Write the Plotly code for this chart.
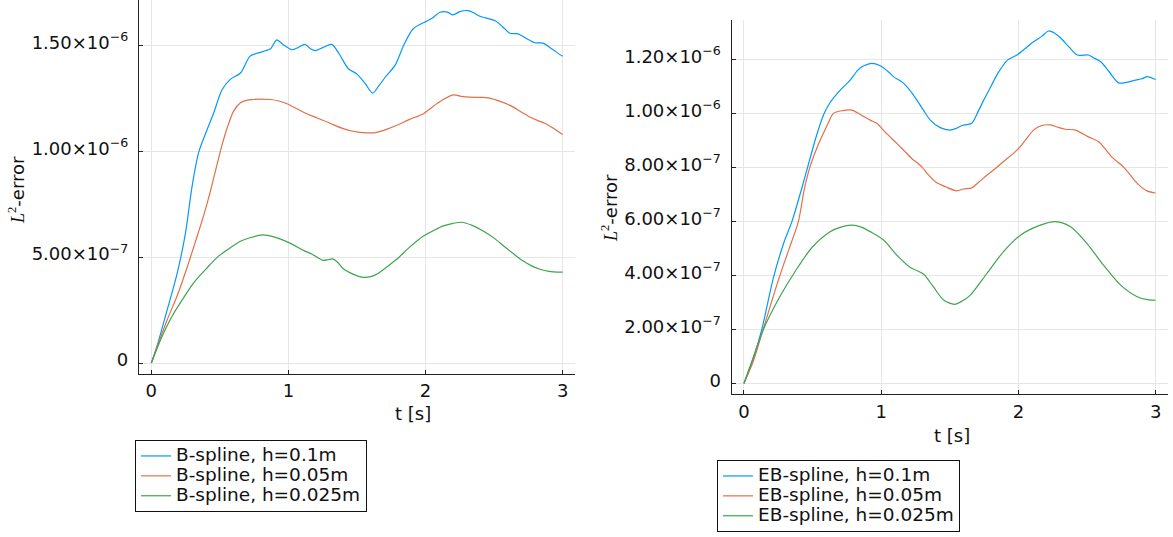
import numpy as np
import plotly.graph_objects as go

# L2-error values are stored in units of 1e-7
UNIT = 1e-7

# --- B-spline runs ---
bs_t_01 = [0, 0.04, 0.115, 0.187, 0.248, 0.296, 0.345, 0.405, 0.454, 0.515, 0.576, 0.65,
           0.72, 0.78, 0.83, 0.87, 0.915, 0.96, 1.025, 1.07, 1.12, 1.16, 1.195, 1.25, 1.316,
           1.37, 1.437, 1.498, 1.56, 1.614, 1.66, 1.705, 1.777, 1.84, 1.91, 2.008, 2.05, 2.105,
           2.16, 2.20, 2.25, 2.31, 2.35, 2.396, 2.505, 2.56, 2.615, 2.675, 2.73, 2.797, 2.857,
           2.92, 2.99, 3.0]
bs_e_01 = [0, 0.77, 2.5, 4.2, 6.1, 8.3, 9.95, 11.0, 11.8, 12.9, 13.4, 13.7,
           14.5, 14.65, 14.75, 14.85, 15.27, 15.05, 14.8, 14.9, 15.05, 14.85, 14.76, 14.9, 15.05,
           14.6, 13.9, 13.66, 13.2, 12.75, 13.1, 13.5, 14.06, 15.0, 15.79, 16.15, 16.3, 16.57,
           16.58, 16.45, 16.6, 16.65, 16.55, 16.38, 16.18, 15.9, 15.58, 15.55, 15.35, 15.13, 15.11,
           14.85, 14.53, 14.5]

bs_t_005 = [0, 0.115, 0.19, 0.26, 0.32, 0.383, 0.43, 0.48, 0.52, 0.553, 0.60, 0.65, 0.70,
            0.745, 0.80, 0.867, 0.93, 0.99, 1.05, 1.11, 1.18, 1.255, 1.33, 1.40, 1.47, 1.546,
            1.60, 1.644, 1.72, 1.79, 1.88, 1.985, 2.05, 2.117, 2.20, 2.26, 2.32, 2.40, 2.456,
            2.55, 2.64, 2.70, 2.76, 2.82, 2.87, 2.93, 2.99, 3.0]
bs_e_005 = [0, 2.03, 3.2, 4.5, 5.7, 7.0, 8.1, 9.4, 10.4, 11.1, 11.9, 12.3, 12.42,
            12.45, 12.47, 12.45, 12.38, 12.25, 12.05, 11.85, 11.65, 11.46, 11.25, 11.07, 10.95, 10.88,
            10.87, 10.9, 11.05, 11.23, 11.5, 11.78, 12.1, 12.4, 12.67, 12.6, 12.56, 12.55, 12.53,
            12.35, 12.09, 11.85, 11.62, 11.45, 11.33, 11.1, 10.83, 10.8]

bs_t_0025 = [0, 0.078, 0.15, 0.224, 0.31, 0.407, 0.49, 0.577, 0.65, 0.72, 0.81, 0.9, 0.97,
             1.04, 1.11, 1.17, 1.22, 1.25, 1.29, 1.32, 1.36, 1.40, 1.47, 1.54, 1.60, 1.65, 1.72,
             1.79, 1.88, 1.985, 2.07, 2.13, 2.2, 2.265, 2.34, 2.42, 2.5, 2.57, 2.64, 2.71, 2.77,
             2.835, 2.9, 2.99, 3.0]
bs_e_0025 = [0, 1.25, 2.2, 2.97, 3.8, 4.5, 5.05, 5.45, 5.75, 5.92, 6.05, 5.95, 5.78,
             5.57, 5.32, 5.15, 4.95, 4.85, 4.88, 4.92, 4.75, 4.45, 4.2, 4.05, 4.08, 4.22, 4.55,
             4.9, 5.45, 6.0, 6.3, 6.48, 6.6, 6.65, 6.5, 6.24, 5.9, 5.53, 5.17, 4.83, 4.6,
             4.43, 4.33, 4.29, 4.29]

# --- EB-spline runs ---
eb_t_01 = [0, 0.07, 0.13, 0.214, 0.29, 0.35, 0.42, 0.48, 0.53, 0.585, 0.628, 0.70,
           0.774, 0.83, 0.87, 0.93, 0.993, 1.05, 1.09, 1.164, 1.21, 1.26, 1.31, 1.358, 1.43,
           1.504, 1.55, 1.59, 1.66, 1.70, 1.747, 1.80, 1.85, 1.92, 1.99, 2.05, 2.11, 2.17, 2.22,
           2.27, 2.31, 2.37, 2.43, 2.51, 2.55, 2.60, 2.66, 2.73, 2.79, 2.854, 2.9, 2.94, 2.99, 3.0]
eb_e_01 = [0, 0.95, 2.0, 3.9, 5.2, 6.0, 7.2, 8.3, 9.2, 10.0, 10.4, 10.85,
           11.23, 11.6, 11.75, 11.85, 11.76, 11.55, 11.36, 11.11, 10.85, 10.49, 10.1, 9.75, 9.47,
           9.38, 9.45, 9.55, 9.63, 10.0, 10.49, 11.0, 11.48, 11.97, 12.16, 12.4, 12.65, 12.85, 13.05,
           12.95, 12.78, 12.45, 12.16, 12.16, 12.05, 11.91, 11.55, 11.13, 11.15, 11.23, 11.28, 11.36,
           11.27, 11.25]

eb_t_005 = [0, 0.07, 0.14, 0.2, 0.262, 0.33, 0.397, 0.44, 0.48, 0.53, 0.567, 0.61, 0.652,
            0.72, 0.786, 0.85, 0.92, 0.968, 1.04, 1.114, 1.17, 1.223, 1.296, 1.34, 1.394, 1.47,
            1.55, 1.60, 1.66, 1.71, 1.77, 1.83, 1.89, 1.99, 2.05, 2.11, 2.17, 2.234, 2.29, 2.343,
            2.416, 2.51, 2.585, 2.63, 2.68, 2.765, 2.81, 2.854, 2.90, 2.94, 2.99, 3.0]
eb_e_005 = [0, 0.85, 2.0, 3.0, 4.0, 5.0, 6.0, 7.2, 8.0, 8.7, 9.13, 9.6, 10.0,
            10.1, 10.12, 9.95, 9.75, 9.63, 9.25, 8.89, 8.6, 8.33, 8.02, 7.75, 7.47, 7.28,
            7.13, 7.2, 7.24, 7.45, 7.71, 7.95, 8.21, 8.64, 9.0, 9.38, 9.55, 9.57, 9.48, 9.41,
            9.38, 9.13, 8.95, 8.7, 8.39, 8.02, 7.75, 7.47, 7.25, 7.12, 7.06, 7.05]

eb_t_0025 = [0, 0.07, 0.14, 0.26, 0.38, 0.50, 0.628, 0.70, 0.786, 0.86, 0.92, 1.017, 1.114,
             1.21, 1.26, 1.31, 1.38, 1.455, 1.533, 1.59, 1.65, 1.77, 1.89, 2.015, 2.16, 2.27,
             2.38, 2.50, 2.62, 2.745, 2.866, 2.94, 3.0]
eb_e_0025 = [0, 1.0, 1.98, 3.2, 4.2, 5.06, 5.62, 5.78, 5.86, 5.78, 5.62, 5.31, 4.75,
             4.3, 4.18, 4.04, 3.58, 3.09, 2.93, 3.05, 3.27, 4.07, 4.87, 5.49, 5.86, 5.99,
             5.8, 5.18, 4.38, 3.64, 3.21, 3.1, 3.08]

series_names_bs = ["B-spline, h=0.1m", "B-spline, h=0.05m", "B-spline, h=0.025m"]
series_names_eb = ["EB-spline, h=0.1m", "EB-spline, h=0.05m", "EB-spline, h=0.025m"]
colors = ["#009AFA", "#E36F47", "#3EA44E"]

x_ticks = [0, 1, 2, 3]
x_ticklabels = ["0", "1", "2", "3"]
left_yticks = [0, 5e-7, 1e-6, 1.5e-6]
left_yticklabels = ["0", "5.00×10<sup>−7</sup>", "1.00×10<sup>−6</sup>", "1.50×10<sup>−6</sup>"]
right_yticks = [0, 2e-7, 4e-7, 6e-7, 8e-7, 1e-6, 1.2e-6]
right_yticklabels = ["0", "2.00×10<sup>−7</sup>", "4.00×10<sup>−7</sup>", "6.00×10<sup>−7</sup>",
                     "8.00×10<sup>−7</sup>", "1.00×10<sup>−6</sup>", "1.20×10<sup>−6</sup>"]

x_title = "t [s]"
y_title = ('<span style="font-family:\'Liberation Serif\'"><i>L</i><sup>2</sup></span>-error')

FONT = "DejaVu Sans"
W, H = 1173, 537
LEGEND_TEXT_PX = 18.5


def padded(values_list, frac=0.03):
    lo = min(min(v) for v in values_list)
    hi = max(max(v) for v in values_list)
    span = hi - lo
    return [lo - frac * span, hi + frac * span]


def legend_label(name):
    # compact rows: legend row height follows legend.font.size, text drawn larger
    return f'<span style="font-size:{LEGEND_TEXT_PX}px">{name}</span>'


fig = go.Figure()

left_sets = [(bs_t_01, bs_e_01), (bs_t_005, bs_e_005), (bs_t_0025, bs_e_0025)]
right_sets = [(eb_t_01, eb_e_01), (eb_t_005, eb_e_005), (eb_t_0025, eb_e_0025)]

for i, ((t, e), name) in enumerate(zip(left_sets, series_names_bs)):
    fig.add_trace(go.Scatter(
        x=t, y=np.array(e) * UNIT, mode="lines", name=legend_label(name),
        line=dict(color=colors[i], width=1.2, shape="spline", smoothing=0.8),
        xaxis="x", yaxis="y", legend="legend",
    ))

for i, ((t, e), name) in enumerate(zip(right_sets, series_names_eb)):
    fig.add_trace(go.Scatter(
        x=t, y=np.array(e) * UNIT, mode="lines", name=legend_label(name),
        line=dict(color=colors[i], width=1.2, shape="spline", smoothing=0.8),
        xaxis="x2", yaxis="y2", legend="legend2",
    ))

left_range = padded([np.array(e) * UNIT for _, e in left_sets])
right_range = padded([np.array(e) * UNIT for _, e in right_sets])
x_range = [-0.09, 3.09]

# plot-area boxes in pixels (left, right, top, bottom)
L_box = (139, 575, 0, 373.6)
R_box = (731.6, 1168, 20.4, 394)


def dom_x(b):
    return [b[0] / W, b[1] / W]


def dom_y(b):
    return [1 - b[3] / H, 1 - b[2] / H]


axis_common = dict(
    showline=True, linecolor="#222222", linewidth=1.2, mirror=False,
    showgrid=True, gridcolor="#e6e6e6", gridwidth=1,
    zeroline=False, ticks="inside", ticklen=4, tickcolor="#222222", tickwidth=1,
    tickfont=dict(family=FONT, size=18, color="#111111"),
)

legend_common = dict(
    xanchor="left", yanchor="top",
    bordercolor="#111111", borderwidth=1, bgcolor="white",
    font=dict(family=FONT, size=13, color="#111111"),
    tracegroupgap=0, itemwidth=30,
)

fig.update_layout(
    width=W, height=H,
    margin=dict(l=0, r=0, t=0, b=0),
    paper_bgcolor="white", plot_bgcolor="white",
    font=dict(family=FONT, size=16, color="#111111"),
    xaxis=dict(domain=dom_x(L_box), anchor="y", range=x_range, tickvals=x_ticks,
               ticktext=x_ticklabels, ticklabelstandoff=1, **axis_common),
    yaxis=dict(domain=dom_y(L_box), anchor="x", range=left_range, tickvals=left_yticks,
               ticktext=left_yticklabels, ticklabelstandoff=6, ticklabelshift=-3,
               **axis_common),
    xaxis2=dict(domain=dom_x(R_box), anchor="y2", range=x_range, tickvals=x_ticks,
                ticktext=x_ticklabels, ticklabelstandoff=1, **axis_common),
    yaxis2=dict(domain=dom_y(R_box), anchor="x2", range=right_range, tickvals=right_yticks,
                ticktext=right_yticklabels, ticklabelstandoff=6, ticklabelshift=-3,
                **axis_common),
    legend=dict(x=135 / W, y=1 - 440 / H, **legend_common),
    legend2=dict(x=717 / W, y=1 - 460 / H, **legend_common),
    showlegend=True,
)

title_font = dict(family=FONT, size=18, color="#111111")
fig.add_annotation(text=x_title, x=413 / W, y=1 - 413 / H, xref="paper", yref="paper",
                   showarrow=False, font=title_font, xanchor="center", yanchor="middle")
fig.add_annotation(text=x_title, x=952 / W, y=1 - 435 / H, xref="paper", yref="paper",
                   showarrow=False, font=title_font, xanchor="center", yanchor="middle")
fig.add_annotation(text=y_title, x=17 / W, y=1 - 190 / H, xref="paper", yref="paper",
                   showarrow=False, font=title_font, textangle=-90,
                   xanchor="center", yanchor="middle")
fig.add_annotation(text=y_title, x=609 / W, y=1 - 208 / H, xref="paper", yref="paper",
                   showarrow=False, font=title_font, textangle=-90,
                   xanchor="center", yanchor="middle")

fig.write_html("out.html")
